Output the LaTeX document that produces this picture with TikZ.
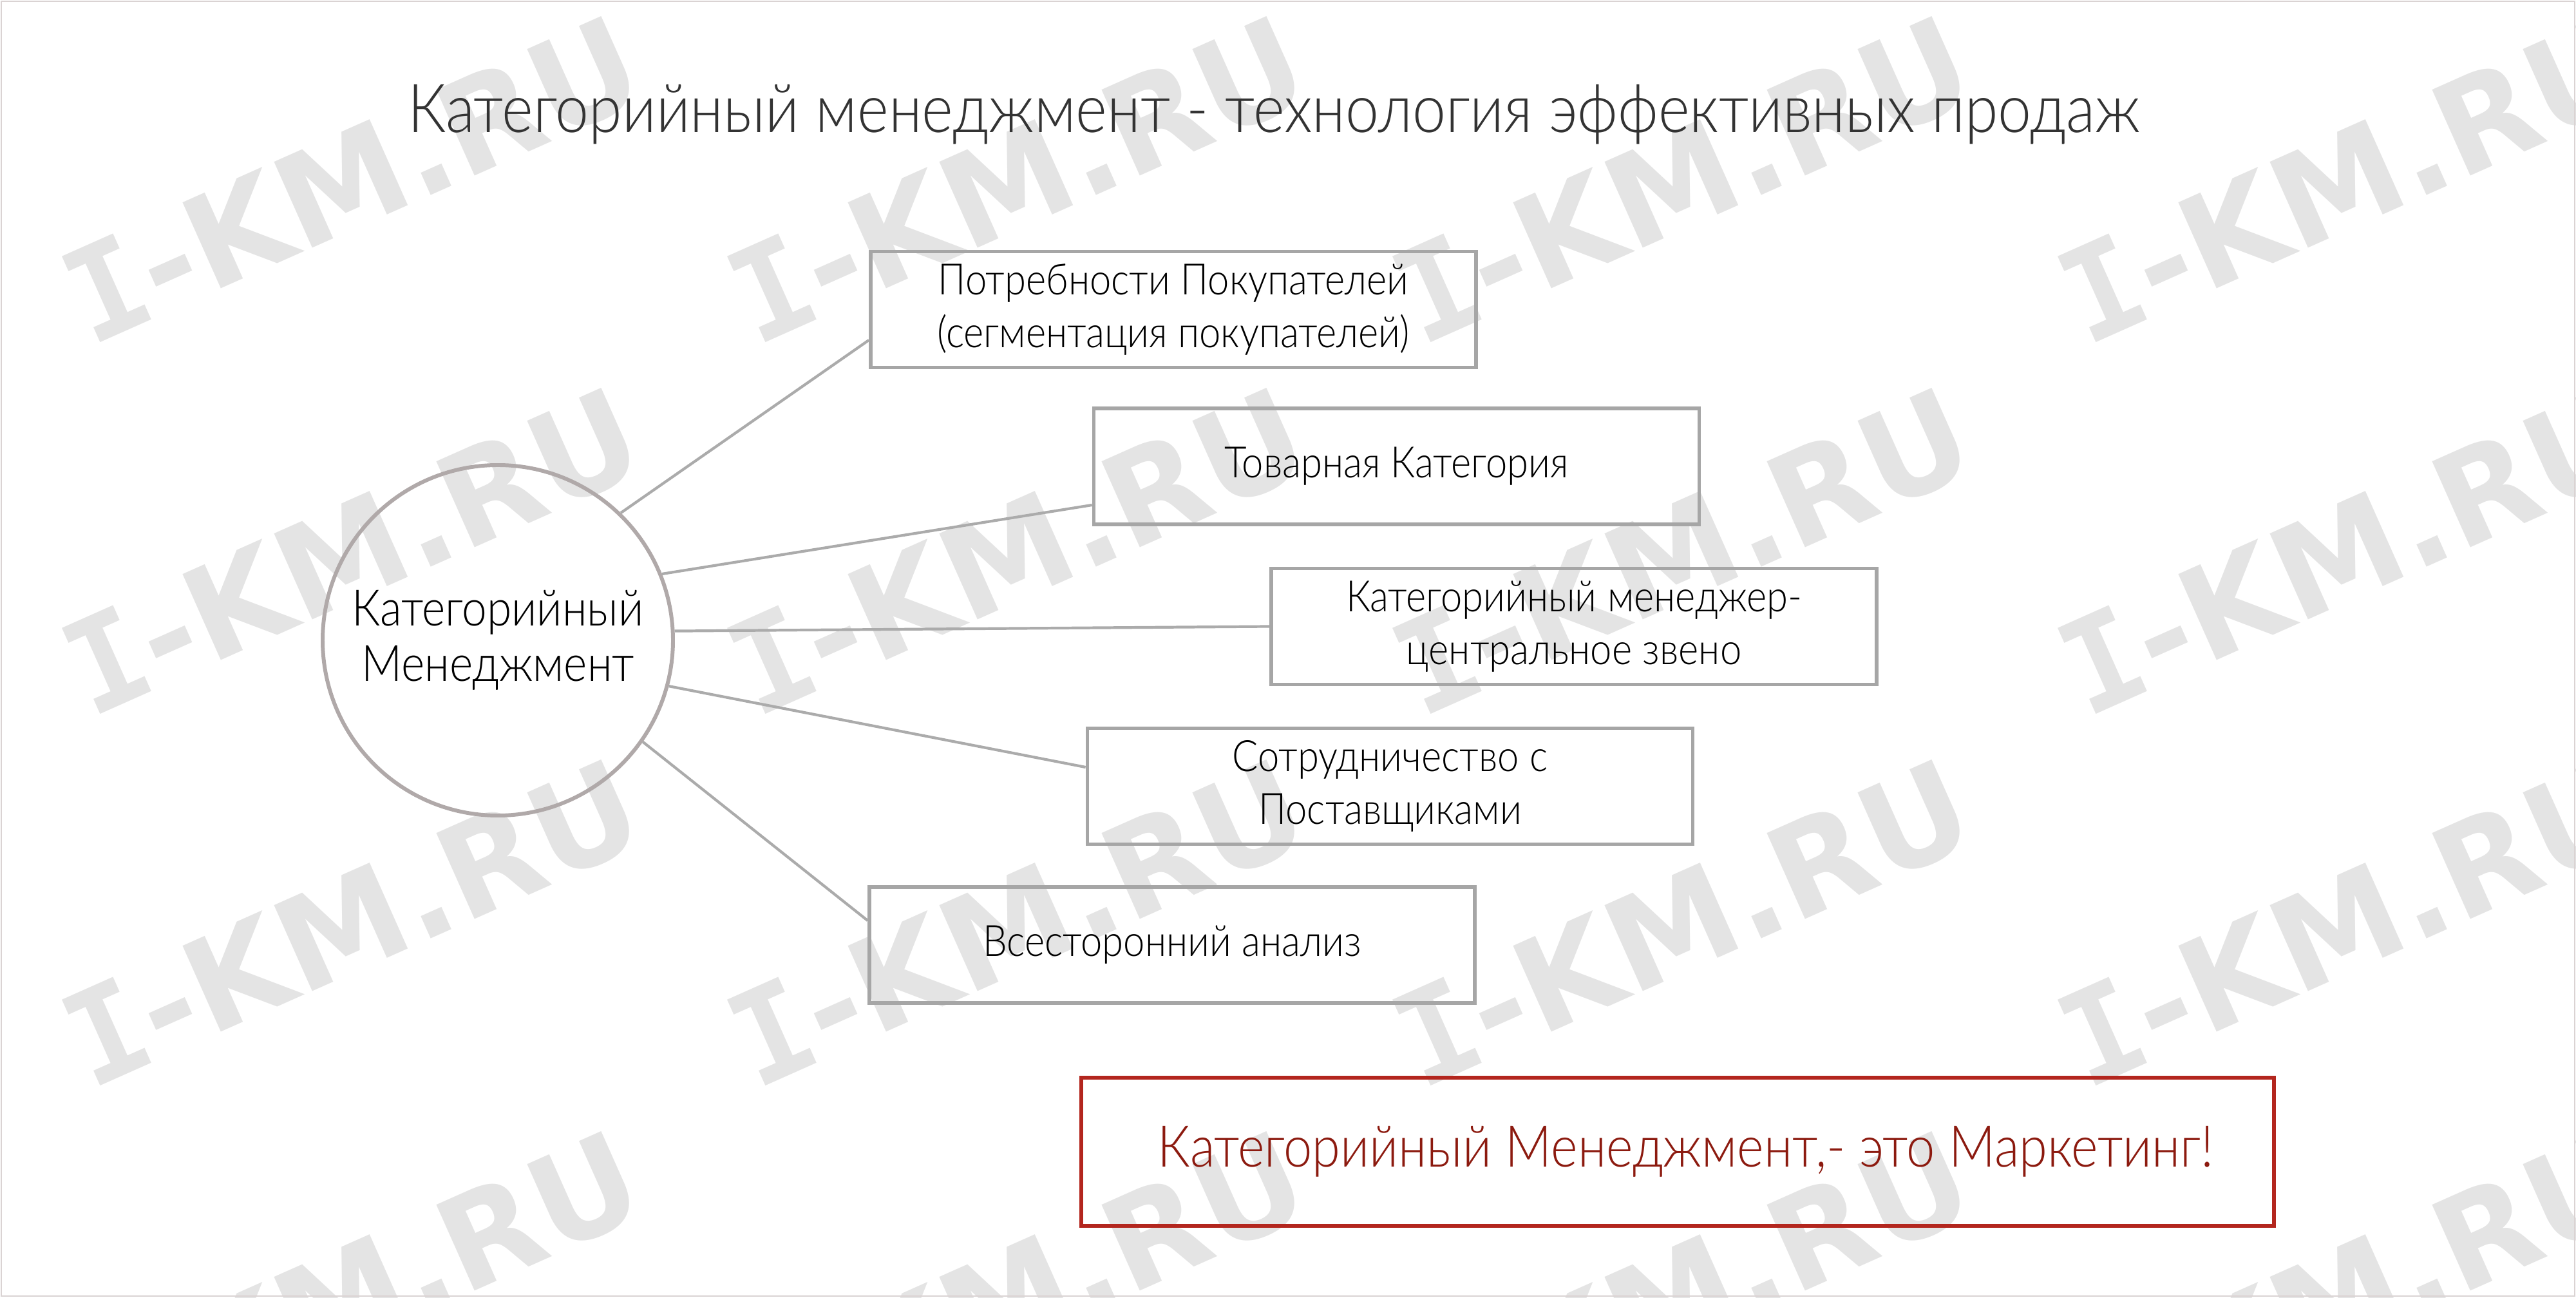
\documentclass[tikz,border=0pt]{standalone}
\usepackage{fontspec}
\setmainfont{Lato}[UprightFont=* Light, FakeStretch=0.89]
\newfontfamily\wmfont{DejaVu Sans}
\newfontfamily\wmserif{DejaVu Sans Mono}

\definecolor{wmgray}{HTML}{E4E4E4}
\definecolor{boxgray}{HTML}{A6A6A6}
\definecolor{ringgray}{HTML}{B0A9A9}
\definecolor{linkgray}{HTML}{ABABAB}
\definecolor{edgegray}{HTML}{DAD3D3}
\definecolor{notered}{HTML}{B3261E}
\definecolor{notetext}{HTML}{8C1A0F}

\tikzset{
  wmark/.style={anchor=base west, rotate=24, inner sep=0, text=wmgray,
    font=\wmfont\bfseries\fontsize{57}{57}\selectfont},
  heading/.style={anchor=base, inner sep=0, text=black!80,
    font=\fontsize{29.8}{36}\selectfont},
  hub/.style={circle, draw=ringgray, line width=1.7pt, minimum size=5.44cm,
    inner sep=0, align=center, font=\fontsize{22.2}{24.5}\selectfont},
  item/.style={rectangle, draw=boxgray, line width=1.6pt, minimum width=9.4cm,
    minimum height=1.8cm, align=center, font=\fontsize{19.1}{23.3}\selectfont},
  link/.style={draw=linkgray, line width=1.2pt},
  note/.style={rectangle, draw=notered, line width=1.7pt, minimum width=18.52cm,
    minimum height=2.3cm, text=notetext, font=\fontsize{25.4}{30}\selectfont}
}

\begin{document}
\begin{tikzpicture}
  \useasboundingbox (0,0) rectangle (40,20.14);
  % watermark grid
  \begin{scope}
    \clip (0,0) rectangle (40,20.14);
    \foreach \i in {0,...,3}
      \foreach \j in {0,...,3}
        \node[wmark] (wm-\i-\j) at (1.40+10.33*\i, 14.75-5.77*\j) {{\wmserif I}-KM.RU};
  \end{scope}
  \draw[edgegray, line width=0.6pt] (0.02,0.02) rectangle (39.98,20.12);

  \node[heading] (title) at (19.78,18.08) {Категорийный менеджмент - технология эффективных продаж};

  \node[hub] (hub) at (7.73,10.20) {Категорийный\\Менеджмент};

  \node[item] (needs) at (18.22,15.335) {Потребности Покупателей\\(сегментация покупателей)};
  \node[item] (goods) at (21.685,12.90) {Товарная Категория};
  \node[item] (manager) at (24.44,10.415) {Категорийный менеджер-\\центральное звено};
  \node[item] (suppliers) at (21.585,7.935) {Сотрудничество с\\Поставщиками};
  \node[item] (analysis) at (18.20,5.47) {Всесторонний анализ};

  \draw[link] (hub.46) -- ([yshift=-4.75mm]needs.west);
  \draw[link] (hub.22) -- ([yshift=-6mm]goods.west);
  \draw[link] (hub.3) -- (manager.west);
  \draw[link] (hub.-15) -- ([yshift=2.95mm]suppliers.west);
  \draw[link] (hub.-35) -- ([yshift=3.8mm]analysis.west);

  \node[note] (slogan) at (26.05,2.26) {\hspace{2.5mm}Категорийный Менеджмент,- это Маркетинг!};
\end{tikzpicture}
\end{document}
